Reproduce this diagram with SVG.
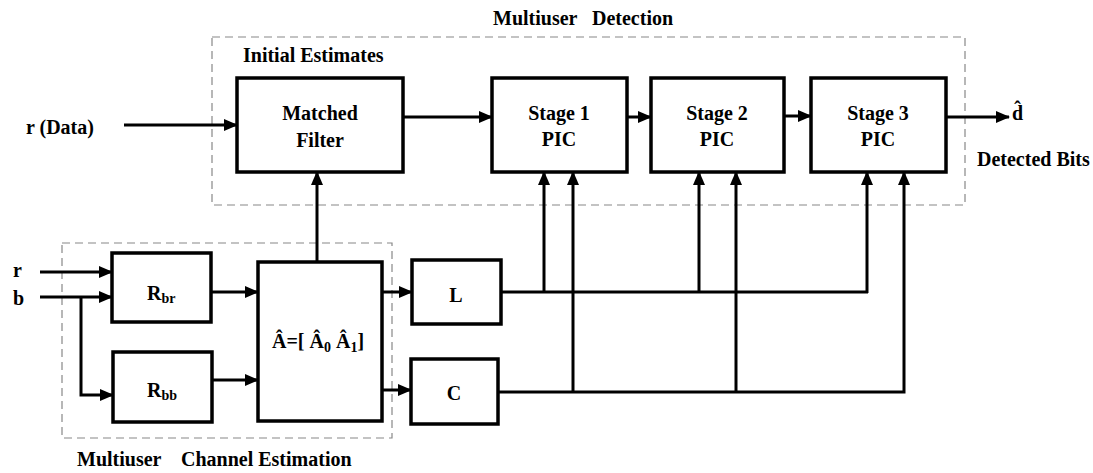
<svg xmlns="http://www.w3.org/2000/svg" width="1093" height="473" viewBox="0 0 1093 473">
<defs>
<marker id="ah" markerWidth="14" markerHeight="12" refX="13" refY="6" orient="auto" markerUnits="userSpaceOnUse">
<path d="M0,0 L14,6 L0,12 Z" fill="#000"/>
</marker>
<style>
.box{fill:#fff;stroke:#000;stroke-width:3.5}
.grp{fill:none;stroke:#888;stroke-width:1.2;stroke-dasharray:8,5}
.ln{fill:none;stroke:#000;stroke-width:3}
.arr{fill:none;stroke:#000;stroke-width:3;marker-end:url(#ah)}
text{font-family:"Liberation Serif","Times New Roman",serif;font-weight:bold;font-size:20px;fill:#000}
.c{text-anchor:middle}
.sub{font-size:14px}
</style>
</defs>
<rect width="1093" height="473" fill="#fff"/>
<g id="groups">
<rect class="grp" x="212" y="37" width="753" height="168"/>
<rect class="grp" x="62" y="243" width="330" height="195"/>
</g>
<g id="labels">
<text x="493" y="25">Multiuser</text>
<text x="592" y="25">Detection</text>
<text x="243" y="62">Initial Estimates</text>
<text x="77" y="466">Multiuser</text>
<text x="181" y="466">Channel Estimation</text>
<text x="26" y="134">r (Data)</text>
<text x="13" y="277">r</text>
<text x="13" y="305">b</text>
<text x="1012" y="120">d̂</text>
<text x="977" y="166">Detected Bits</text>
</g>
<g id="connectors">
<line class="arr" x1="124" y1="125" x2="237" y2="125"/>
<line class="arr" x1="403" y1="117" x2="492" y2="117"/>
<line class="arr" x1="627" y1="117" x2="651" y2="117"/>
<line class="arr" x1="784" y1="116" x2="811" y2="116"/>
<line class="arr" x1="946" y1="117" x2="1009" y2="117"/>
<line class="arr" x1="317" y1="262" x2="317" y2="172"/>
<line class="arr" x1="40" y1="272" x2="112" y2="272"/>
<line class="arr" x1="40" y1="297" x2="112" y2="297"/>
<polyline class="arr" points="81,297 81,395 113,395"/>
<line class="arr" x1="211" y1="292" x2="258" y2="292"/>
<line class="arr" x1="212" y1="380" x2="258" y2="380"/>
<line class="arr" x1="382" y1="292" x2="412" y2="292"/>
<line class="arr" x1="382" y1="390" x2="411" y2="390"/>
<line class="ln" x1="501" y1="292" x2="868" y2="292"/>
<line class="arr" x1="544" y1="292" x2="544" y2="172"/>
<line class="arr" x1="699" y1="292" x2="699" y2="172"/>
<line class="arr" x1="867" y1="293" x2="867" y2="172"/>
<polyline class="arr" points="498,392 904,392 904,172"/>
<line class="arr" x1="573" y1="392" x2="573" y2="172"/>
<line class="arr" x1="736" y1="392" x2="736" y2="172"/>
</g>
<g id="matched-filter">
<rect class="box" x="237" y="78" width="166" height="94"/>
<text class="c" x="320" y="120">Matched</text>
<text class="c" x="320" y="147">Filter</text>
</g>
<g id="stage1">
<rect class="box" x="492" y="78" width="135" height="94"/>
<text class="c" x="559" y="120">Stage 1</text>
<text class="c" x="559" y="146">PIC</text>
</g>
<g id="stage2">
<rect class="box" x="651" y="78" width="133" height="94"/>
<text class="c" x="717" y="120">Stage 2</text>
<text class="c" x="717" y="146">PIC</text>
</g>
<g id="stage3">
<rect class="box" x="811" y="78" width="135" height="94"/>
<text class="c" x="878" y="120">Stage 3</text>
<text class="c" x="878" y="146">PIC</text>
</g>
<g id="rbr">
<rect class="box" x="112" y="253" width="99" height="69"/>
<text x="147" y="300">R<tspan class="sub" dy="3">br</tspan></text>
</g>
<g id="rbb">
<rect class="box" x="113" y="352" width="99" height="70"/>
<text x="147" y="397">R<tspan class="sub" dy="3">bb</tspan></text>
</g>
<g id="a-est">
<rect class="box" x="258" y="262" width="124" height="159"/>
<text x="272" y="348">Â=[ Â<tspan class="sub" dy="4">0</tspan><tspan dy="-4"> Â</tspan><tspan class="sub" dy="4">1</tspan><tspan dy="-4">]</tspan></text>
</g>
<g id="L">
<rect class="box" x="412" y="260" width="89" height="64"/>
<text class="c" x="456" y="302">L</text>
</g>
<g id="C">
<rect class="box" x="411" y="359" width="87" height="65"/>
<text class="c" x="454" y="400">C</text>
</g>
</svg>
